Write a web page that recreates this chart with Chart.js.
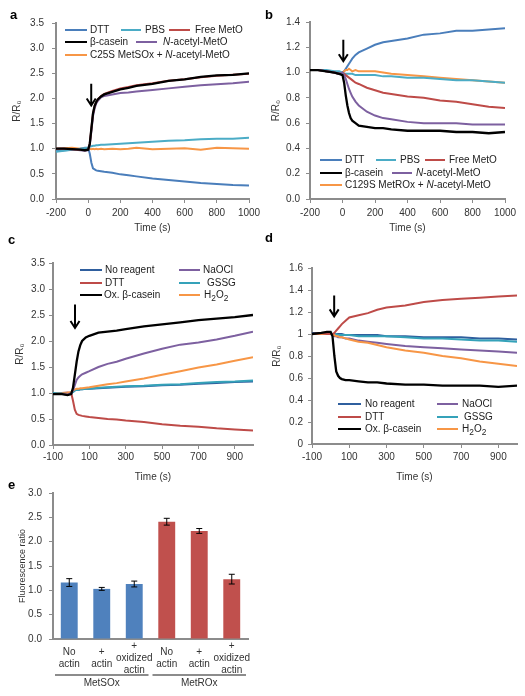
<!DOCTYPE html>
<html>
<head>
<meta charset="utf-8">
<script src="https://cdn.jsdelivr.net/npm/chart.js@4.4.0/dist/chart.umd.min.js"></script>
<style>
  body { margin: 0; background: #fff; font-family: "Liberation Sans", Arial, sans-serif; }
  #page { position: relative; width: 525px; height: 696px; overflow: hidden; }
  #page canvas { position: absolute; }
  .panel { position: absolute; font-weight: bold; font-size: 13px; line-height: 15px; color: #000; }
  .leg { position: absolute; font-size: 10px; line-height: 12px; color: #222; white-space: nowrap; }
  .sw { position: absolute; height: 2px; }
</style>
</head>
<body>
<div id="page">
  <canvas id="chA" width="270" height="240" style="left:0;top:0"></canvas>
  <canvas id="chB" width="265" height="240" style="left:260px;top:0"></canvas>
  <canvas id="chC" width="270" height="265" style="left:0;top:225px"></canvas>
  <canvas id="chD" width="265" height="265" style="left:260px;top:225px"></canvas>
  <canvas id="chE" width="265" height="216" style="left:0;top:480px"></canvas>
</div>
<script>
// ---- data ----
const T_AB = [-200, -150, -100, -50, -20, 0, 10, 20, 30, 40, 50, 60, 80, 100, 150, 200, 250, 300, 400, 500, 600, 700, 800, 900, 1000];
const T_CD = [-100, -50, -20, 0, 10, 20, 30, 40, 50, 60, 80, 100, 150, 200, 250, 300, 400, 500, 600, 700, 800, 900, 1000];
const X_TICKS_AB = [-200, 0, 200, 400, 600, 800, 1000];
const X_TICKS_CD = [-100, 100, 300, 500, 700, 900];

// panel a
const A_DTT = [0.95, 0.97, 0.98, 1.0, 1.02, 1.02, 0.9, 0.72, 0.61, 0.59, 0.57, 0.56, 0.55, 0.54, 0.52, 0.49, 0.47, 0.45, 0.41, 0.38, 0.35, 0.32, 0.3, 0.28, 0.27];
const A_PBS = [0.94, 0.96, 0.98, 1.0, 1.01, 1.02, 1.04, 1.05, 1.06, 1.06, 1.07, 1.07, 1.08, 1.08, 1.09, 1.1, 1.11, 1.12, 1.14, 1.16, 1.17, 1.19, 1.2, 1.2, 1.22];
const A_MET = [1.0, 1.0, 0.99, 0.98, 0.97, 0.98, 1.1, 1.4, 1.7, 1.85, 1.93, 1.98, 2.05, 2.09, 2.15, 2.2, 2.23, 2.26, 2.3, 2.35, 2.38, 2.42, 2.45, 2.47, 2.49];
const A_CAS = [1.0, 1.0, 0.99, 0.98, 0.97, 0.98, 1.1, 1.4, 1.7, 1.85, 1.93, 1.98, 2.04, 2.08, 2.13, 2.18, 2.21, 2.25, 2.29, 2.35, 2.38, 2.43, 2.46, 2.47, 2.5];
const A_NAC = [1.0, 1.0, 0.99, 0.97, 0.96, 0.97, 1.08, 1.35, 1.65, 1.8, 1.9, 1.95, 2.02, 2.05, 2.08, 2.11, 2.12, 2.14, 2.17, 2.2, 2.23, 2.26, 2.28, 2.3, 2.33];
const A_C25S = [1.0, 1.01, 1.02, 1.0, 1.0, 1.0, 1.0, 0.99, 1.0, 0.99, 1.0, 0.99, 1.0, 0.99, 1.0, 0.99, 1.0, 1.02, 0.99, 1.0, 1.01, 0.98, 1.02, 1.01, 1.0];
const NAMES_A = ["DTT", "PBS", "Free MetO", "β-casein", "<i>N</i>-acetyl-MetO", "C25S MetSOx + <i>N</i>-acetyl-MetO"];

// panel b
const B_DTT = [1.02, 1.02, 1.01, 1.0, 0.99, 1.0, 1.01, 1.03, 1.05, 1.07, 1.09, 1.11, 1.14, 1.16, 1.19, 1.22, 1.24, 1.25, 1.27, 1.3, 1.31, 1.33, 1.33, 1.34, 1.35];
const B_PBS = [1.02, 1.02, 1.02, 1.01, 1.01, 1.0, 0.99, 0.99, 0.99, 0.99, 0.99, 0.99, 0.98, 0.98, 0.98, 0.98, 0.97, 0.97, 0.96, 0.96, 0.95, 0.94, 0.94, 0.93, 0.92];
const B_MET = [1.02, 1.02, 1.01, 1.0, 0.99, 1.0, 0.99, 0.98, 0.97, 0.96, 0.95, 0.94, 0.92, 0.91, 0.88, 0.86, 0.84, 0.83, 0.81, 0.8, 0.78, 0.77, 0.75, 0.73, 0.72];
const B_CAS = [1.02, 1.02, 1.01, 1.0, 0.99, 0.98, 0.92, 0.82, 0.74, 0.68, 0.64, 0.62, 0.6, 0.58, 0.57, 0.56, 0.56, 0.55, 0.54, 0.54, 0.54, 0.53, 0.53, 0.52, 0.53];
const B_NAC = [1.02, 1.02, 1.01, 1.0, 0.99, 1.0, 0.98, 0.95, 0.91, 0.87, 0.84, 0.81, 0.77, 0.74, 0.69, 0.66, 0.64, 0.63, 0.61, 0.6, 0.6, 0.6, 0.59, 0.59, 0.59];
const B_C129 = [1.02, 1.02, 1.01, 1.0, 0.99, 1.0, 1.01, 1.02, 1.02, 1.03, 1.02, 1.01, 1.02, 1.01, 1.01, 1.01, 1.0, 0.99, 0.98, 0.97, 0.96, 0.95, 0.94, 0.93, 0.92];
const NAMES_B = ["DTT", "PBS", "Free MetO", "β-casein", "<i>N</i>-acetyl-MetO", "C129S MetROx + <i>N</i>-acetyl-MetO"];

// panel c
const C_NONE = [1.0, 0.99, 0.99, 1.0, 1.02, 1.05, 1.06, 1.06, 1.07, 1.07, 1.08, 1.08, 1.09, 1.1, 1.11, 1.12, 1.13, 1.15, 1.16, 1.18, 1.19, 1.21, 1.22];
const C_DTT = [1.0, 1.0, 1.01, 1.0, 0.85, 0.68, 0.6, 0.58, 0.57, 0.56, 0.55, 0.54, 0.52, 0.5, 0.49, 0.47, 0.44, 0.4, 0.37, 0.35, 0.32, 0.3, 0.28];
const C_CAS = [0.98, 0.98, 0.96, 0.98, 1.1, 1.35, 1.6, 1.8, 1.92, 2.0, 2.07, 2.1, 2.16, 2.18, 2.2, 2.23, 2.28, 2.32, 2.36, 2.4, 2.43, 2.46, 2.5];
const C_NAOCL = [0.98, 0.98, 0.97, 1.0, 1.05, 1.15, 1.25, 1.3, 1.33, 1.36, 1.39, 1.42, 1.5, 1.56, 1.6, 1.66, 1.76, 1.85, 1.93, 1.97, 2.03, 2.1, 2.18];
const C_GSSG = [1.0, 0.99, 0.99, 1.0, 1.02, 1.05, 1.06, 1.06, 1.07, 1.07, 1.08, 1.08, 1.1, 1.11, 1.12, 1.13, 1.14, 1.16, 1.17, 1.19, 1.21, 1.22, 1.24];
const C_H2O2 = [0.98, 0.99, 1.0, 1.02, 1.05, 1.07, 1.08, 1.08, 1.09, 1.09, 1.1, 1.11, 1.14, 1.17, 1.19, 1.22, 1.28, 1.35, 1.42, 1.49, 1.55, 1.62, 1.69];

// panel d
const D_NONE = [1.01, 1.01, 1.01, 1.0, 1.0, 1.0, 1.0, 1.0, 1.0, 1.0, 0.99, 0.99, 0.99, 0.99, 0.99, 0.98, 0.98, 0.97, 0.97, 0.97, 0.96, 0.96, 0.95];
const D_DTT = [1.0, 1.01, 1.0, 1.0, 1.0, 1.01, 1.03, 1.05, 1.07, 1.09, 1.12, 1.15, 1.17, 1.19, 1.22, 1.24, 1.26, 1.29, 1.31, 1.32, 1.33, 1.34, 1.35];
const D_CAS = [1.0, 1.01, 1.02, 1.02, 0.98, 0.8, 0.66, 0.62, 0.6, 0.59, 0.58, 0.58, 0.57, 0.56, 0.56, 0.55, 0.54, 0.54, 0.53, 0.53, 0.53, 0.52, 0.53];
const D_NAOCL = [1.0, 1.0, 1.0, 1.0, 0.99, 0.98, 0.98, 0.97, 0.97, 0.97, 0.96, 0.96, 0.94, 0.93, 0.92, 0.91, 0.89, 0.88, 0.87, 0.86, 0.85, 0.84, 0.83];
const D_GSSG = [1.0, 1.0, 1.0, 1.0, 1.0, 1.0, 1.0, 0.99, 0.99, 0.99, 0.99, 0.99, 0.98, 0.98, 0.98, 0.98, 0.97, 0.96, 0.96, 0.95, 0.94, 0.94, 0.93];
const D_H2O2 = [1.0, 1.0, 1.0, 1.0, 0.99, 0.99, 0.98, 0.98, 0.97, 0.97, 0.96, 0.95, 0.93, 0.92, 0.9, 0.88, 0.85, 0.83, 0.8, 0.78, 0.75, 0.73, 0.71];
const NAMES_CD = ["No reagent", "DTT", "Ox. β-casein", "NaOCl", "GSSG", "H<sub>2</sub>O<sub>2</sub>"];

// arrows: time, value at tail, value at tip
const ARROW_A = { t: 19, from: 2.29, to: 1.86 };
const ARROW_B = { t: 5, from: 1.26, to: 1.09 };
const ARROW_C = { t: 21, from: 2.70, to: 2.25 };
const ARROW_D = { t: 19, from: 1.35, to: 1.16 };

// panel e
const E_CATS = [["No", "actin"], ["+", "actin"], ["+", "oxidized", "actin"], ["No", "actin"], ["+", "actin"], ["+", "oxidized", "actin"]];
const E_VALUES = [1.16, 1.03, 1.13, 2.41, 2.22, 1.23];
const E_ERRORS = [0.08, 0.03, 0.06, 0.07, 0.05, 0.1];
const E_GROUPS = ["MetSOx", "MetROx"];
const E_GROUP_SIZE = 3;

// ---- styles ----
const AXIS = "#8c8c8c";
const TXT = "#333";
const FONT = "'Liberation Sans', Arial, sans-serif";
const C_BLUE = "#4a7ebb", C_CYAN = "#4bacc6", C_RED = "#be4b48", C_PURPLE = "#7d60a0", C_ORANGE = "#f79646";
const C_DARKBLUE = "#2f5f9e", C_TEAL = "#35a2b9";

const arrowPlugin = {
  id: "arrowMark",
  afterDatasetsDraw(chart, args, opts) {
    const { ctx } = chart;
    const x = chart.scales.x.getPixelForValue(opts.t);
    const y0 = chart.scales.y.getPixelForValue(opts.from);
    const y1 = chart.scales.y.getPixelForValue(opts.to);
    ctx.save();
    ctx.strokeStyle = "#000";
    ctx.lineWidth = 2;
    ctx.beginPath();
    ctx.moveTo(x, y0);
    ctx.lineTo(x, y1);
    ctx.moveTo(x - 4.5, y1 - 7);
    ctx.lineTo(x, y1);
    ctx.lineTo(x + 4.5, y1 - 7);
    ctx.stroke();
    ctx.restore();
  },
};

function lineChart(id, times, series, colors, o) {
  const datasets = series.map((vals, i) => ({
    data: vals.map((v, j) => ({ x: times[j], y: v })),
    borderColor: colors[i],
    borderWidth: colors[i] === "#000" ? 2.3 : 2,
    pointRadius: 0,
    tension: 0,
    fill: false,
  }));
  return new Chart(document.getElementById(id), {
    type: "line",
    data: { datasets },
    options: {
      responsive: false,
      animation: false,
      events: [],
      layout: { padding: { top: o.padTop, right: o.padRight, left: 0, bottom: 0 } },
      plugins: { legend: { display: false }, tooltip: { enabled: false }, arrowMark: o.arrow },
      scales: {
        x: {
          type: "linear",
          min: o.xMin,
          max: o.xMax,
          afterBuildTicks: (s) => { s.ticks = o.xTicks.map((v) => ({ value: v })); },
          afterFit: (s) => { s.height = o.xh; },
          ticks: { callback: (v) => String(v), font: { family: FONT, size: 10 }, color: TXT, padding: o.xPad, maxRotation: 0, autoSkip: false },
          grid: { drawOnChartArea: false, tickLength: 4, color: AXIS },
          border: { color: AXIS, width: 2 },
          title: { display: true, text: "Time (s)", font: { family: FONT, size: 10 }, color: TXT, padding: { top: 0, bottom: o.xTitlePad } },
        },
        y: {
          min: 0,
          max: o.yMax,
          afterFit: (s) => { s.width = o.yw; },
          ticks: { stepSize: o.yStep, callback: o.yFmt, font: { family: FONT, size: 10 }, color: TXT, padding: o.yPad },
          grid: { drawOnChartArea: false, tickLength: 4, color: AXIS },
          border: { color: AXIS, width: 2 },
          title: { display: true, text: "R/R\u2080", font: { family: FONT, size: 10 }, color: TXT, padding: { top: o.yTitlePad, bottom: 0 } },
        },
      },
    },
    plugins: [arrowPlugin],
  });
}

const fmt1 = (v) => v.toFixed(1);
const fmtShort = (v) => String(+v.toFixed(1));

lineChart("chA", T_AB, [A_CAS, A_MET, A_NAC, A_PBS, A_C25S, A_DTT], ["#000", C_RED, C_PURPLE, C_CYAN, C_ORANGE, C_BLUE], {
  xMin: -200, xMax: 1000, xTicks: X_TICKS_AB, yMax: 3.5, yStep: 0.5, yFmt: fmt1, arrow: ARROW_A,
  yw: 56, xh: 41, padTop: 23, padRight: 21, xPad: 4, yPad: 8, xTitlePad: 6, yTitlePad: 11,
});
lineChart("chB", T_AB, [B_CAS, B_NAC, B_MET, B_PBS, B_C129, B_DTT], ["#000", C_PURPLE, C_RED, C_CYAN, C_ORANGE, C_BLUE], {
  xMin: -200, xMax: 1000, xTicks: X_TICKS_AB, yMax: 1.4, yStep: 0.2, yFmt: fmt1, arrow: ARROW_B,
  yw: 50, xh: 41, padTop: 22, padRight: 20, xPad: 4, yPad: 6, xTitlePad: 6, yTitlePad: 10,
});
lineChart("chC", T_CD, [C_CAS, C_NAOCL, C_H2O2, C_GSSG, C_NONE, C_DTT], ["#000", C_PURPLE, C_ORANGE, C_TEAL, C_DARKBLUE, C_RED], {
  xMin: -100, xMax: 1000, xTicks: X_TICKS_CD, yMax: 3.5, yStep: 0.5, yFmt: fmt1, arrow: ARROW_C,
  yw: 53, xh: 45, padTop: 38, padRight: 17, xPad: 2, yPad: 4, xTitlePad: 7, yTitlePad: 14,
});
lineChart("chD", T_CD, [D_CAS, D_DTT, D_H2O2, D_NAOCL, D_GSSG, D_NONE], ["#000", C_RED, C_ORANGE, C_PURPLE, C_TEAL, C_DARKBLUE], {
  xMin: -100, xMax: 1000, xTicks: X_TICKS_CD, yMax: 1.6, yStep: 0.2, yFmt: fmtShort, arrow: ARROW_D,
  yw: 52, xh: 46, padTop: 43, padRight: 8, xPad: 3, yPad: 5, xTitlePad: 7, yTitlePad: 11,
});

// ---- panel e ----
const errorBarPlugin = {
  id: "errorBars",
  afterDatasetsDraw(chart) {
    const { ctx } = chart;
    const y = chart.scales.y;
    chart.getDatasetMeta(0).data.forEach((bar, i) => {
      const hi = y.getPixelForValue(E_VALUES[i] + E_ERRORS[i]);
      const lo = y.getPixelForValue(E_VALUES[i] - E_ERRORS[i]);
      ctx.save();
      ctx.strokeStyle = "#000";
      ctx.lineWidth = 1;
      ctx.beginPath();
      ctx.moveTo(bar.x, hi); ctx.lineTo(bar.x, lo);
      ctx.moveTo(bar.x - 3, hi); ctx.lineTo(bar.x + 3, hi);
      ctx.moveTo(bar.x - 3, lo); ctx.lineTo(bar.x + 3, lo);
      ctx.stroke();
      ctx.restore();
    });
  },
};

const groupLabelPlugin = {
  id: "groupLabels",
  afterDraw(chart) {
    const { ctx, chartArea } = chart;
    const x = chart.scales.x;
    const half = (x.getPixelForValue(1) - x.getPixelForValue(0)) / 2;
    E_GROUPS.forEach((name, g) => {
      const a = x.getPixelForValue(g * E_GROUP_SIZE) - half + 2;
      const b = x.getPixelForValue(g * E_GROUP_SIZE + E_GROUP_SIZE - 1) + half - 2;
      ctx.save();
      ctx.strokeStyle = AXIS;
      ctx.lineWidth = 2;
      ctx.beginPath();
      ctx.moveTo(a, chartArea.bottom + 36);
      ctx.lineTo(b, chartArea.bottom + 36);
      ctx.stroke();
      ctx.fillStyle = TXT;
      ctx.font = `10px ${FONT}`;
      ctx.textAlign = "center";
      ctx.textBaseline = "middle";
      ctx.fillText(name, (a + b) / 2, chartArea.bottom + 44);
      ctx.restore();
    });
  },
};

new Chart(document.getElementById("chE"), {
  type: "bar",
  data: {
    labels: E_CATS,
    datasets: [{
      data: E_VALUES,
      backgroundColor: E_VALUES.map((v, i) => (i < E_GROUP_SIZE ? "#4f81bd" : "#c0504d")),
      categoryPercentage: 1,
      barPercentage: 0.52,
    }],
  },
  options: {
    responsive: false,
    animation: false,
    events: [],
    layout: { padding: { top: 13, right: 17, left: 0, bottom: 0 } },
    plugins: { legend: { display: false }, tooltip: { enabled: false } },
    scales: {
      x: {
        afterFit: (s) => { s.height = 57; },
        ticks: { font: { family: FONT, size: 10 }, color: TXT, padding: 7, crossAlign: "center", maxRotation: 0, autoSkip: false },
        grid: { display: false, drawTicks: false },
        border: { color: AXIS, width: 2 },
      },
      y: {
        min: 0,
        max: 3,
        afterFit: (s) => { s.width = 53; },
        ticks: { stepSize: 0.5, callback: fmt1, font: { family: FONT, size: 10 }, color: TXT, padding: 7 },
        grid: { drawOnChartArea: false, tickLength: 4, color: AXIS },
        border: { color: AXIS, width: 2 },
        title: { display: true, text: "Fluorescence ratio", font: { family: FONT, size: 9 }, color: TXT, padding: { top: 17, bottom: 0 } },
      },
    },
  },
  plugins: [errorBarPlugin, groupLabelPlugin],
});

// ---- HTML legends and panel letters ----
const page = document.getElementById("page");

function addLegend(names, colors, slots) {
  slots.forEach(([x1, x2, tx, y], i) => {
    const sw = document.createElement("div");
    sw.className = "sw";
    sw.style.cssText = `left:${x1}px;top:${y - 1}px;width:${x2 - x1}px;background:${colors[i]}`;
    page.appendChild(sw);
    const t = document.createElement("div");
    t.className = "leg";
    t.style.cssText = `left:${tx}px;top:${y - 6}px`;
    t.innerHTML = names[i];
    page.appendChild(t);
  });
}

addLegend(NAMES_A, [C_BLUE, C_CYAN, C_RED, "#000", C_PURPLE, C_ORANGE], [
  [65, 87, 90, 30], [121, 141, 145, 30], [169, 190, 195, 30],
  [65, 87, 90, 42], [136, 157, 163, 42],
  [65, 87, 90, 55],
]);
addLegend(NAMES_B, [C_BLUE, C_CYAN, C_RED, "#000", C_PURPLE, C_ORANGE], [
  [320, 342, 345, 160], [376, 396, 400, 160], [425, 445, 449, 160],
  [320, 342, 345, 172.5], [392, 412, 416, 172.5],
  [320, 342, 345, 185],
]);
addLegend(NAMES_CD, [C_DARKBLUE, C_RED, "#000", C_PURPLE, C_TEAL, C_ORANGE], [
  [80, 102, 105, 270], [80, 102, 105, 283], [80, 102, 104, 295],
  [179, 200, 203, 270], [179, 200, 207, 283], [179, 200, 204, 295],
]);
addLegend(NAMES_CD, [C_DARKBLUE, C_RED, "#000", C_PURPLE, C_TEAL, C_ORANGE], [
  [338, 361, 365, 404], [338, 361, 365, 417], [338, 361, 365, 429],
  [437, 458, 462, 404], [437, 458, 464, 417], [437, 458, 462, 429],
]);

[["a", 10, 6.5], ["b", 265, 6.5], ["c", 8, 231.5], ["d", 265, 230], ["e", 8, 477]].forEach(([s, x, y]) => {
  const d = document.createElement("div");
  d.className = "panel";
  d.style.cssText = `left:${x}px;top:${y}px`;
  d.textContent = s;
  page.appendChild(d);
});
</script>
</body>
</html>
